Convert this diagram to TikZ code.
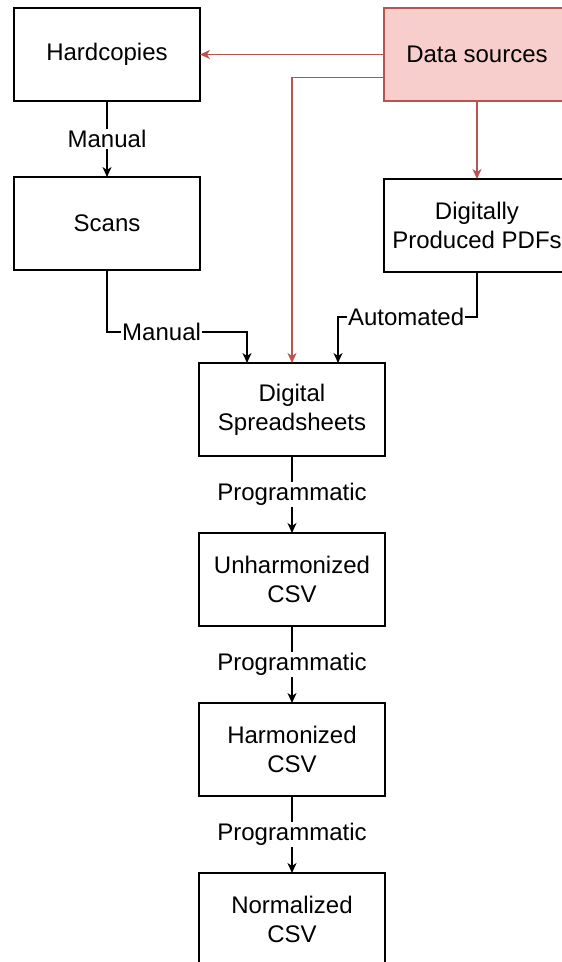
\documentclass[tikz,border=0pt]{standalone}
\usepackage{fontspec}
\setmainfont{Liberation Sans}
\usetikzlibrary{arrows.meta,positioning}
\definecolor{srcfill}{RGB}{248,206,204}
\definecolor{srcred}{RGB}{184,84,80}

\begin{document}
\begin{tikzpicture}[
    font=\fontsize{24}{29}\selectfont,
    >={Stealth[length=10pt,width=9pt,inset=3pt]},
    node distance=76pt,
    box/.style={draw=black, fill=white, line width=1.5pt, minimum width=186pt, minimum height=93pt, align=center, inner sep=2pt, outer sep=0pt},
    source/.style={box, draw=srcred, fill=srcfill},
    flow/.style={->, draw=black, line width=1.5pt},
    srcflow/.style={->, draw=srcred, line width=1.5pt},
    lbl/.style={fill=white, inner sep=1pt, text=black}
]

% Page frame (boxes run off the right and bottom edge)
\clip (0,0) rectangle (562pt,-962pt);

% Top row
\node[box] (hard) at (107pt,-54.5pt) {Hardcopies};
\node[source, right=184pt of hard] (src) {Data sources};

% Second row
\node[box, below=of hard] (scans) {Scans};
\node[box, below=78pt of src] (pdfs) {Digitally\\Produced PDFs};

% Processing chain
\node[box] (sheets) at (292pt,-409.5pt) {Digital\\Spreadsheets};
\node[box, below=77pt of sheets] (unharm) {Unharmonized\\CSV};
\node[box, below=77pt of unharm] (harm) {Harmonized\\CSV};
\node[box, below=77pt of harm] (norm) {Normalized\\CSV};

% Source links
\draw[srcflow] (src.west) -- (hard.east);
\draw[srcflow] (src.south) -- (pdfs.north);
\draw[srcflow] ([yshift=-23pt]src.west) -| (sheets.north);

% Manual and automated steps
\draw[flow] (hard.south) -- node[lbl] {Manual} (scans.north);
\draw[flow] (scans.south) -- ++(0,-62pt) -| node[lbl, pos=0.195] {Manual} ([xshift=-45pt]sheets.north);
\draw[flow] (pdfs.south) -- ++(0,-45pt) -| node[lbl, pos=0.255] {Automated} ([xshift=46pt]sheets.north);

% Programmatic steps
\draw[flow] (sheets.south) -- node[lbl] {Programmatic} (unharm.north);
\draw[flow] (unharm.south) -- node[lbl] {Programmatic} (harm.north);
\draw[flow] (harm.south) -- node[lbl] {Programmatic} (norm.north);

\end{tikzpicture}
\end{document}
